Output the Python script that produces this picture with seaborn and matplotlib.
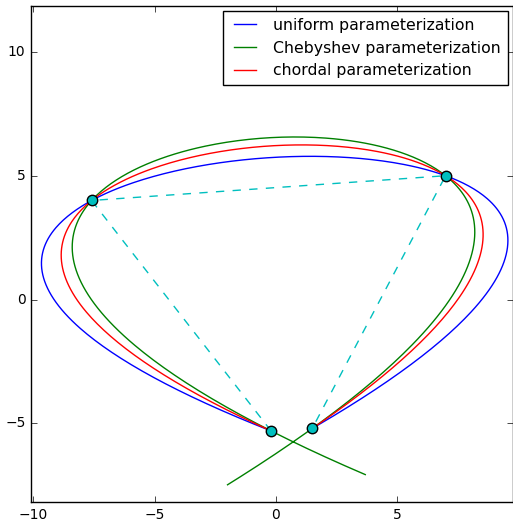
import numpy as np
import pandas as pd
import matplotlib
matplotlib.use("Agg")
import matplotlib.pyplot as plt
import seaborn as sns

# data points (in curve order)
px = [-0.2, -7.6, 7.0, 1.5]
py = [-5.3, 4.0, 5.0, -5.2]

labels = ["uniform parameterization", "Chebyshev parameterization", "chordal parameterization"]
colors = ["b", "g", "r"]

plt.style.use("classic")
plt.rcParams["font.size"] = 10
plt.rcParams["font.family"] = ["DejaVu Sans"]

fig = plt.figure(figsize=(5.13, 5.24), dpi=100, facecolor="white")
ax = fig.add_axes([31 / 513, 22 / 524, 482 / 513, 496 / 524])
ax.set_facecolor("white")

xa = np.array(px)
ya = np.array(py)
n = len(xa)

# parameter nodes
t_uni = np.arange(n, dtype=float)
t_cheb = np.cos((2 * np.arange(n) + 1) * np.pi / (2 * n))
d = np.hypot(np.diff(xa), np.diff(ya))
t_chord = np.concatenate([[0.0], np.cumsum(d)])

ranges = [(t_uni[0], t_uni[-1]), (1.0, -1.0), (t_chord[0], t_chord[-1])]
nodes = [t_uni, t_cheb, t_chord]

frames = []
for lab, t, (a, b) in zip(labels, nodes, ranges):
    cx = np.polyfit(t, xa, n - 1)
    cy = np.polyfit(t, ya, n - 1)
    tt = np.linspace(a, b, 400)
    frames.append(pd.DataFrame({"x": np.polyval(cx, tt), "y": np.polyval(cy, tt),
                                "order": np.arange(400), "curve": lab}))
df = pd.concat(frames, ignore_index=True)

for lab, c in zip(labels, colors):
    sub = df[df["curve"] == lab]
    sns.lineplot(data=sub, x="x", y="y", sort=False, estimator=None, color=c,
                 linewidth=1.0, label=lab, ax=ax)

pts = pd.DataFrame({"x": px, "y": py})
sns.lineplot(data=pts, x="x", y="y", sort=False, estimator=None, color="c",
             linestyle="--", linewidth=1.0, ax=ax, legend=False)
ax.plot(px, py, linestyle="none", marker="o", markersize=7.5, markerfacecolor="c",
        markeredgecolor="k", markeredgewidth=1.0, zorder=5)

ax.set_xlim(-10.1, 9.78)
ax.set_ylim(-8.17, 11.85)
ax.set_xticks([-10, -5, 0, 5])
ax.set_yticks([-5, 0, 5, 10])
ax.set_xlabel("")
ax.set_ylabel("")
ax.tick_params(labelsize=10)

leg = ax.legend(loc="upper right", fontsize=11.3, borderaxespad=0.35)
leg.get_frame().set_edgecolor("k")

fig.savefig("out.png", dpi=100, facecolor="white")
